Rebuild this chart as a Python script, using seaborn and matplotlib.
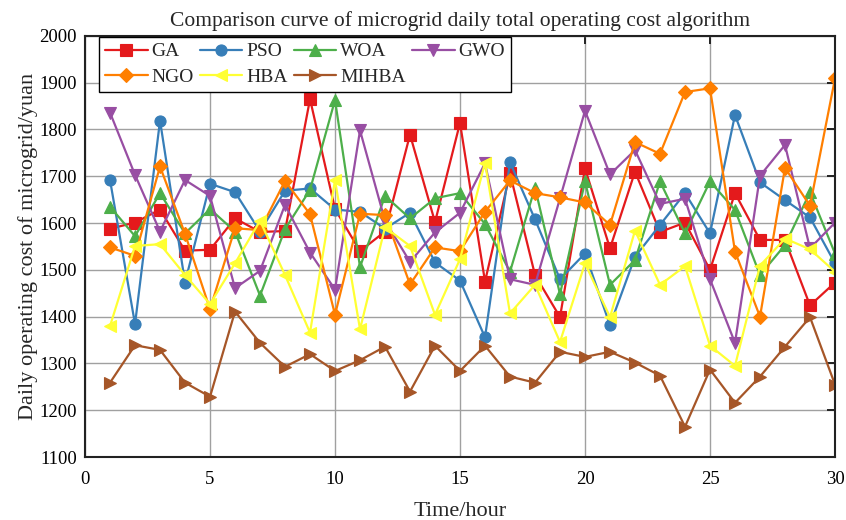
import numpy as np
import pandas as pd
import seaborn as sns
import matplotlib
matplotlib.use("Agg")
import matplotlib.pyplot as plt

hours = list(range(1, 31))
GA = [1588, 1601, 1629, 1541, 1543, 1610, 1581, 1583, 1865, 1630, 1540, 1582, 1789, 1602, 1814, 1475, 1706, 1489, 1399, 1717,
      1546, 1710, 1581, 1601, 1500, 1664, 1564, 1564, 1424, 1473]
PSO = [1692, 1384, 1819, 1473, 1684, 1666, 1582, 1669, 1674, 1629, 1624, 1588, 1622, 1516, 1477, 1356, 1730, 1608, 1480, 1535,
       1382, 1528, 1596, 1664, 1578, 1831, 1687, 1649, 1612, 1514]
WOA = [1635, 1572, 1664, 1578, 1630, 1582, 1445, 1587, 1671, 1863, 1506, 1658, 1610, 1653, 1664, 1598, 1496, 1676, 1448, 1689,
       1468, 1521, 1689, 1578, 1689, 1628, 1489, 1553, 1666, 1535]
GWO = [1836, 1703, 1582, 1692, 1658, 1461, 1498, 1639, 1537, 1458, 1798, 1605, 1517, 1580, 1622, 1728, 1480, 1468, 1653, 1840,
       1704, 1756, 1641, 1652, 1480, 1344, 1701, 1767, 1546, 1601]
NGO = [1548, 1530, 1721, 1577, 1416, 1589, 1585, 1690, 1619, 1404, 1620, 1617, 1469, 1548, 1540, 1624, 1691, 1664, 1655, 1644,
       1596, 1773, 1748, 1880, 1888, 1539, 1400, 1718, 1637, 1909]
HBA = [1380, 1551, 1555, 1489, 1427, 1514, 1605, 1489, 1366, 1692, 1373, 1591, 1551, 1404, 1523, 1729, 1407, 1468, 1346, 1514,
       1399, 1584, 1468, 1508, 1338, 1295, 1509, 1567, 1544, 1496]
MIHBA = [1259, 1339, 1329, 1259, 1229, 1411, 1344, 1293, 1320, 1284, 1307, 1336, 1240, 1338, 1284, 1338, 1272, 1259, 1325, 1314,
         1325, 1302, 1274, 1165, 1287, 1216, 1272, 1336, 1399, 1255]

series = {"GA": GA, "PSO": PSO, "WOA": WOA, "GWO": GWO, "NGO": NGO, "HBA": HBA, "MIHBA": MIHBA}
colors = {"GA": "#e41a1c", "PSO": "#377eb8", "WOA": "#4daf4a", "GWO": "#984ea3",
          "NGO": "#ff7f00", "HBA": "#ffff33", "MIHBA": "#a65628"}
markers = {"GA": "s", "PSO": "o", "WOA": "^", "GWO": "v", "NGO": "D", "HBA": "<", "MIHBA": ">"}
legend_order = ["GA", "NGO", "PSO", "HBA", "WOA", "MIHBA", "GWO"]

sns.set_style("white")
plt.rcParams["font.family"] = ["Liberation Serif", "DejaVu Serif"]

fig = plt.figure(figsize=(8.46, 5.2), dpi=100)
ax = fig.add_axes([0.1005, 0.121, 0.8865, 0.81])

for name, vals in series.items():
    df = pd.DataFrame({"hour": hours, "cost": vals})
    ms = 8 if markers[name] != "D" else 7
    sns.lineplot(data=df, x="hour", y="cost", ax=ax, color=colors[name], marker=markers[name],
                 markersize=ms, markeredgewidth=0.8, markeredgecolor=colors[name], linewidth=1.6, label=name)

ax.set_xlim(0, 30)
ax.set_ylim(1100, 2000)
ax.set_xticks(range(0, 31, 5))
ax.set_yticks(range(1100, 2001, 100))
ax.grid(True, color="#a0a0a0", linewidth=1.0)
ax.set_axisbelow(True)
for s in ax.spines.values():
    s.set_color("#222222")
    s.set_linewidth(1.5)
ax.tick_params(direction="in", top=True, right=True, length=6, width=1.4, labelsize=13.5, colors="#222222",
               labelcolor="black")
ax.tick_params(axis="x", pad=10)
ax.tick_params(axis="y", pad=6)
ax.set_xlabel("Time/hour", fontsize=16, labelpad=10)
ax.set_ylabel("Daily operating cost of microgrid/yuan", fontsize=16, labelpad=1)
ax.set_title("Comparison curve of microgrid daily total operating cost algorithm", fontsize=15.5, pad=7)

handles, labels = ax.get_legend_handles_labels()
hmap = dict(zip(labels, handles))
leg = ax.legend([hmap[n] for n in legend_order], legend_order, loc="upper left",
                bbox_to_anchor=(14 / 750, 1 - 1 / 421), borderaxespad=0, ncol=4,
                fontsize=14, frameon=True, fancybox=False, edgecolor="black", framealpha=1,
                handlelength=2.2, columnspacing=0.3, labelspacing=0.4,
                borderpad=0.3, handletextpad=0.2)
leg.get_frame().set_linewidth(1.0)

fig.savefig("out.png", dpi=100)
